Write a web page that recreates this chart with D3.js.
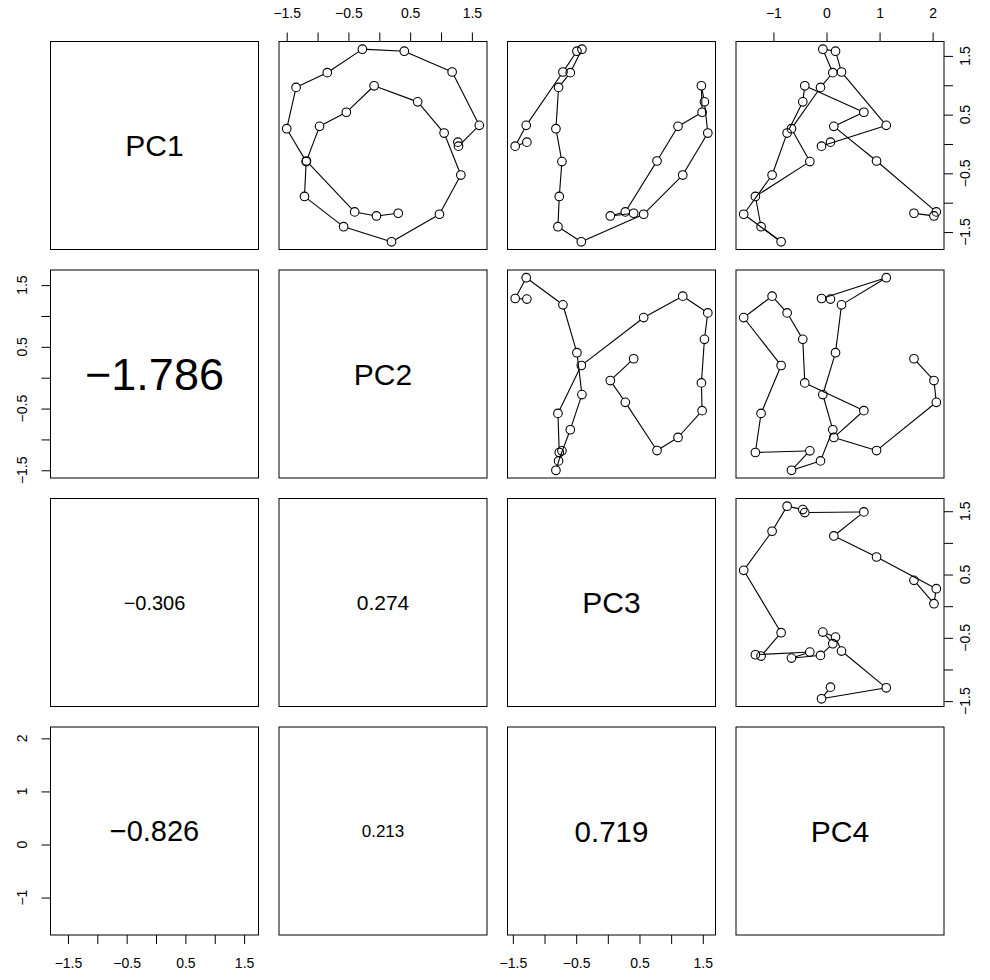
<!DOCTYPE html>
<html>
<head>
<meta charset="utf-8">
<script src="https://cdn.jsdelivr.net/npm/d3@7"></script>
<style>
  body { margin: 0; background: #fff; }
  svg text { font-family: "Liberation Sans", Arial, Helvetica, sans-serif; fill: #000; }
</style>
</head>
<body>
<svg id="chart" width="990" height="980"></svg>
<script>
// principal component scores, in time order
const pc1 = [0.031, -0.037, 0.317, 1.226, 1.58, 1.614, 1.214, 0.963, 0.26, -0.30, -0.894, -1.409,
             -1.666, -1.197, -0.529, 0.186, 0.717, 0.991, 0.54, 0.30, -0.29, -1.157, -1.226, -1.18]
const pc2 = [1.273, 1.283, 1.62, 1.18, 0.405, -0.274, -0.843, -1.348, -1.5, -1.185, -1.212, -0.578,
             0.198, 0.974, 1.321, 1.05, 0.622, -0.084, -0.534, -0.968, -1.18, -0.399, -0.046, 0.307]
const pc3 = [-1.279, -1.463, -1.289, -0.709, -0.488, -0.409, -0.593, -0.778, -0.82, -0.725, -0.767, -0.788,
             -0.419, 0.566, 1.183, 1.579, 1.526, 1.478, 1.489, 1.109, 0.777, 0.276, 0.039, 0.408]
const pc4 = [0.075, -0.094, 1.126, 0.283, 0.17, -0.069, 0.119, -0.113, -0.66, -0.314, -1.34, -1.233,
             -0.855, -1.56, -1.025, -0.742, -0.447, -0.409, 0.704, 0.138, 0.943, 2.069, 2.025, 1.648]

const varNames = ["PC1", "PC2", "PC3", "PC4"]

// numbers printed in the lower panels
const lowerCells = [
  { row: 1, col: 0, text: "\u22121.786" },
  { row: 2, col: 0, text: "\u22120.306" },
  { row: 2, col: 1, text: "0.274" },
  { row: 3, col: 0, text: "\u22120.826" },
  { row: 3, col: 1, text: "0.213" },
  { row: 3, col: 2, text: "0.719" }
]

const halfTicks = [-1.5, -1, -0.5, 0, 0.5, 1, 1.5]
const halfLabels = [-1.5, -0.5, 0.5, 1.5]
const unitTicks = [-1, 0, 1, 2]

const vars = [pc1, pc2, pc3, pc4]
const tickSets = [halfTicks, halfTicks, halfTicks, unitTicks]
const labelSets = [halfLabels, halfLabels, halfLabels, unitTicks]

// layout
const left0 = 50.5, top0 = 41.5, size = 208, step = 228.5
const r = 4.3
const lowerFont = [45, 20, 21, 29, 17, 29.5]
const diagFont = 30
const tickFont = 14

const svg = d3.select("#chart")

const colX = (j) => left0 + j * step
const rowY = (i) => top0 + i * step

// one scale per variable (x when it is a column, y when it is a row), extended 4% like R
const xScales = vars.map((v, j) => {
  const e = d3.extent(v), pad = (e[1] - e[0]) * 0.04
  return d3.scaleLinear().domain([e[0] - pad, e[1] + pad]).range([colX(j), colX(j) + size])
})
const yScales = vars.map((v, i) => {
  const e = d3.extent(v), pad = (e[1] - e[0]) * 0.04
  return d3.scaleLinear().domain([e[0] - pad, e[1] + pad]).range([rowY(i) + size, rowY(i)])
})

const fmt = (d) => String(d).replace("-", "\u2212")

for (let i = 0; i < 4; i++) {
  for (let j = 0; j < 4; j++) {

    const cell = svg.append("g")

    if (j > i) {
      const x = xScales[j], y = yScales[i]
      const pts = vars[j].map((d, k) => [x(d), y(vars[i][k])])

      // type = "b": segments stop short of the circles
      pts.slice(1).forEach((p, k) => {
        const a = pts[k]
        const dx = p[0] - a[0], dy = p[1] - a[1]
        const len = Math.sqrt(dx * dx + dy * dy)
        if (len <= 2 * r) return
        const ux = dx / len, uy = dy / len
        cell.append("line")
          .attr("x1", a[0] + ux * r)
          .attr("y1", a[1] + uy * r)
          .attr("x2", p[0] - ux * r)
          .attr("y2", p[1] - uy * r)
          .attr("stroke", "#000")
          .attr("stroke-width", 1.1)
      })

      cell.selectAll("circle")
        .data(pts)
        .join("circle")
        .attr("cx", d => d[0])
        .attr("cy", d => d[1])
        .attr("r", r)
        .attr("fill", "none")
        .attr("stroke", "#000")
        .attr("stroke-width", 1.1)
    }

    if (i == j) {
      cell.append("text")
        .attr("x", colX(j) + size / 2)
        .attr("y", rowY(i) + size / 2 + diagFont * 0.358)
        .attr("text-anchor", "middle")
        .style("font-size", diagFont + "px")
        .text(varNames[i])
    }

    cell.append("rect")
      .attr("x", colX(j))
      .attr("y", rowY(i))
      .attr("width", size)
      .attr("height", size)
      .attr("fill", "none")
      .attr("stroke", "#000")
      .attr("stroke-width", 1)
  }
}

lowerCells.forEach((c, k) => {
  const fs = lowerFont[k]
  svg.append("text")
    .attr("x", colX(c.col) + size / 2)
    .attr("y", rowY(c.row) + size / 2 + fs * 0.358)
    .attr("text-anchor", "middle")
    .style("font-size", fs + "px")
    .text(c.text)
})

// axes alternate around the matrix like R's pairs()
const labelFmt = (j) => (d) => labelSets[j].includes(d) ? fmt(d) : ""
const tickLen = 9
const labelDist = 28.5

function styleAxis(g) {
  g.select(".domain").remove()
  g.selectAll(".tick line").attr("stroke", "#000").attr("stroke-width", 1)
  g.selectAll("text").style("font-size", tickFont + "px").attr("fill", "#000")
}

// top: columns 2 and 4
;[1, 3].forEach(j => {
  const g = svg.append("g")
    .attr("transform", `translate(0,${rowY(0)})`)
    .call(d3.axisTop(xScales[j]).tickValues(tickSets[j]).tickFormat(labelFmt(j))
      .tickSize(tickLen).tickPadding(labelDist - tickLen - tickFont * 0.358))
  styleAxis(g)
})

// bottom: columns 1 and 3
;[0, 2].forEach(j => {
  const g = svg.append("g")
    .attr("transform", `translate(0,${rowY(3) + size})`)
    .call(d3.axisBottom(xScales[j]).tickValues(tickSets[j]).tickFormat(labelFmt(j))
      .tickSize(tickLen).tickPadding(labelDist - tickLen - tickFont * 0.358))
  styleAxis(g)
})

// side axes: ticks from d3, labels rotated to read bottom to top
function sideLabels(g, i, xCenter) {
  g.selectAll(".tick text").remove()
  svg.append("g")
    .selectAll("text")
    .data(labelSets[i])
    .join("text")
    .attr("text-anchor", "middle")
    .style("font-size", tickFont + "px")
    .attr("transform", d => `translate(${xCenter + tickFont * 0.358},${yScales[i](d)}) rotate(-90)`)
    .text(d => fmt(d))
}

// left: rows 2 and 4
;[1, 3].forEach(i => {
  const g = svg.append("g")
    .attr("transform", `translate(${colX(0)},0)`)
    .call(d3.axisLeft(yScales[i]).tickValues(tickSets[i]).tickSize(tickLen))
  styleAxis(g)
  sideLabels(g, i, colX(0) - labelDist)
})

// right: rows 1 and 3
;[0, 2].forEach(i => {
  const g = svg.append("g")
    .attr("transform", `translate(${colX(3) + size},0)`)
    .call(d3.axisRight(yScales[i]).tickValues(tickSets[i]).tickSize(tickLen))
  styleAxis(g)
  sideLabels(g, i, colX(3) + size + labelDist - 8)
})
</script>
</body>
</html>
